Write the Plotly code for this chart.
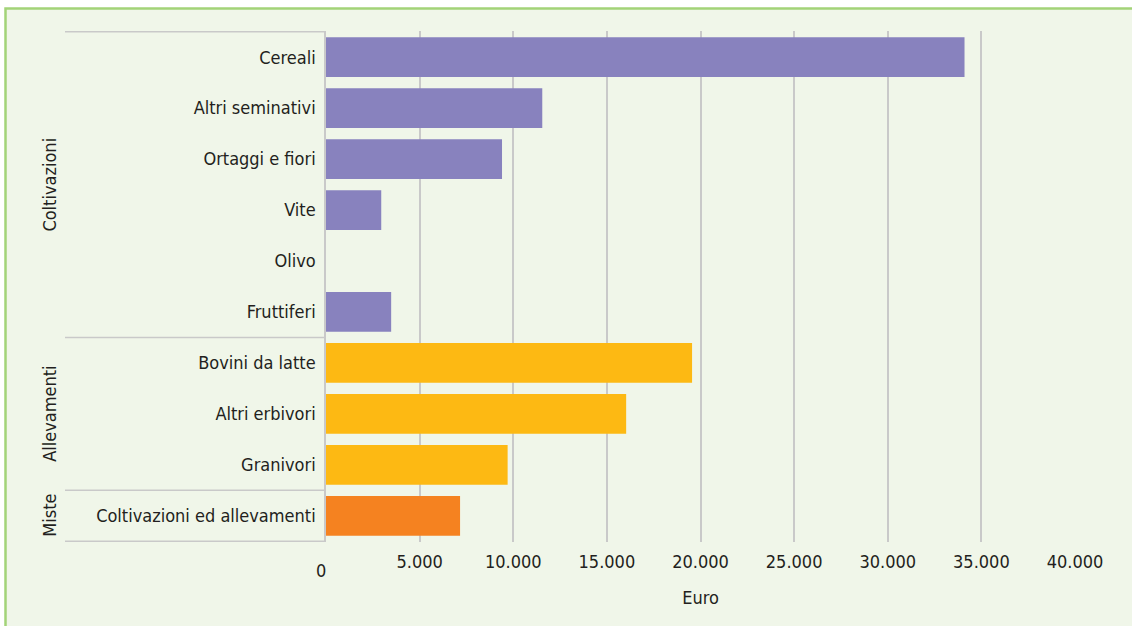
import plotly.graph_objects as go

# ---- data ----
groups = ["Coltivazioni", "Allevamenti", "Miste"]
group_categories = [
    ["Cereali", "Altri seminativi", "Ortaggi e fiori", "Vite", "Olivo", "Fruttiferi"],
    ["Bovini da latte", "Altri erbivori", "Granivori"],
    ["Coltivazioni ed allevamenti"],
]
group_values = [
    [34100, 11550, 9400, 2950, 0, 3480],
    [19550, 16030, 9700],
    [7160],
]
group_colors = ["#8882be", "#fdb913", "#f58220"]
x_ticks = [5000, 10000, 15000, 20000, 25000, 30000, 35000, 40000]
x_title = "Euro"

# ---- layout constants ----
W, H = 1132, 626
ML, MR, MT, MB = 326, 57, 31, 84
PW = W - ML - MR
PH = H - MT - MB
FONT = "DejaVu Sans Condensed, sans-serif"
FS = 18
TXT = "#231f20"
GRID = "#c9c9c9"
BG = "#f0f6e9"

all_cats = [c for g in group_categories for c in g]

fig = go.Figure()
for g, cats, vals, col in zip(groups, group_categories, group_values, group_colors):
    fig.add_trace(go.Bar(
        y=cats, x=vals, orientation="h", name=g,
        marker=dict(color=col, line=dict(width=0)),
        showlegend=False,
    ))

shapes = []
# background frame
shapes.append(dict(type="rect", xref="paper", yref="paper",
                   x0=(5.5 - ML) / PW, x1=1.3,
                   y0=-0.4, y1=1 + (MT - 8.5) / PH,
                   line=dict(color="#a3d378", width=2.5), fillcolor=BG, layer="below"))

# group separators
sep_x0 = (65 - ML) / PW
annotations = []
start = 0
bounds = [-0.5]
for g, cats in zip(groups, group_categories):
    n = len(cats)
    bounds.append(start + n - 0.5)
    annotations.append(dict(text=g, xref="paper", yref="y", x=(50 - ML) / PW,
                            y=start + (n - 1) / 2, showarrow=False, textangle=-90,
                            font=dict(family=FONT, size=FS, color=TXT),
                            xanchor="center", yanchor="middle"))
    start += n
for b in bounds:
    shapes.append(dict(type="line", xref="paper", yref="y", x0=sep_x0, x1=0,
                       y0=b, y1=b, line=dict(color=GRID, width=1.5), layer="above"))

# "0" label placed slightly lower, as in the reference
annotations.append(dict(text="0", xref="x", yref="paper", x=0, y=0, yshift=-28, xshift=-5,
                        showarrow=False, font=dict(family=FONT, size=FS, color=TXT),
                        xanchor="center", yanchor="middle"))

fig.update_layout(
    width=W, height=H,
    margin=dict(l=ML, r=MR, t=MT, b=MB, pad=0),
    paper_bgcolor="white", plot_bgcolor="rgba(0,0,0,0)",
    separators=",.",
    bargap=0.22,
    font=dict(family=FONT, size=FS, color=TXT),
    shapes=shapes, annotations=annotations,
    xaxis=dict(range=[0, 40000], tickvals=x_ticks, tickformat=",",
               showgrid=True, gridcolor=GRID, gridwidth=2, zeroline=False,
               showline=False, ticks="outside", ticklen=3, tickcolor="rgba(0,0,0,0)",
               tickfont=dict(family=FONT, size=FS, color=TXT),
               title=dict(text=x_title, font=dict(family=FONT, size=FS, color=TXT), standoff=20)),
    yaxis=dict(categoryorder="array", categoryarray=all_cats, autorange="reversed",
               showgrid=False, showline=True, linecolor=GRID, linewidth=1.5,
               ticks="outside", ticklen=5, tickcolor="rgba(0,0,0,0)",
               tickfont=dict(family=FONT, size=FS, color=TXT)),
)

fig.write_html("out.html")
